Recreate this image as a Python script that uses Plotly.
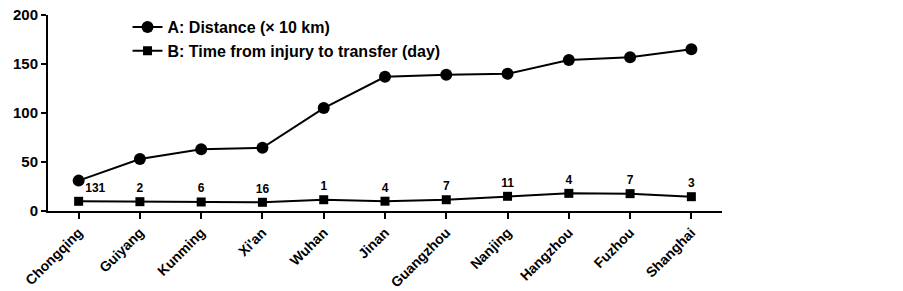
import plotly.graph_objects as go

cities = ["Chongqing", "Guiyang", "Kunming", "Xi'an", "Wuhan", "Jinan",
          "Guangzhou", "Nanjing", "Hangzhou", "Fuzhou", "Shanghai"]
distance = [31, 53, 63, 64.5, 105, 137, 139, 140, 154, 157, 165]
time_days = [9.9, 9.5, 9.2, 8.9, 11.5, 10, 11.5, 15, 18, 17.7, 14.6]
case_counts = ["131", "2", "6", "16", "1", "4", "7", "11", "4", "7", "3"]
y_ticks = [0, 50, 100, 150, 200]

FONT = "Liberation Sans, Arial, sans-serif"

fig = go.Figure()
fig.add_trace(go.Scatter(
    x=cities, y=distance, mode="lines+markers",
    name="<b>A: Distance (× 10 km)</b>",
    line=dict(color="black", width=2),
    marker=dict(symbol="circle", size=12, color="black"),
))
fig.add_trace(go.Scatter(
    x=cities, y=time_days, mode="lines+markers+text",
    name="<b>B: Time from injury to transfer (day)</b>",
    text=["<b>" + t + "</b>" for t in case_counts],
    textposition=["top right"] + ["top center"] * 10,
    textfont=dict(family=FONT, size=12, color="black"),
    line=dict(color="black", width=2),
    marker=dict(symbol="square", size=9, color="black"),
))

fig.update_layout(
    width=903, height=291,
    margin=dict(l=48, r=181, t=15, b=80, autoexpand=False),
    paper_bgcolor="white", plot_bgcolor="white",
    font=dict(family=FONT, color="black"),
    showlegend=True,
    legend=dict(x=0.118, y=1.025, xanchor="left", yanchor="top",
                font=dict(family=FONT, size=16, color="black"),
                bgcolor="rgba(0,0,0,0)", tracegroupgap=0, itemwidth=30),
    xaxis=dict(
        type="category", range=[-0.5, 10.5], automargin=False,
        showline=True, linecolor="black", linewidth=2,
        ticks="outside", ticklen=6, tickwidth=2, tickcolor="black",
        tickangle=-45, showgrid=False, zeroline=False,
        ticklabeloverflow="allow",
        tickfont=dict(family=FONT, size=14, color="black", weight="bold"),
    ),
    yaxis=dict(
        range=[0, 200], tickvals=y_ticks, automargin=False,
        showline=True, linecolor="black", linewidth=2,
        ticks="outside", ticklen=5, tickwidth=2, tickcolor="black",
        showgrid=False, zeroline=False,
        ticklabeloverflow="allow",
        tickfont=dict(family=FONT, size=15, color="black", weight="bold"),
    ),
)

fig.write_html("out.html",
               config={"displayModeBar": False},
               post_script="document.body.style.margin='0';document.body.style.overflow='hidden';")
